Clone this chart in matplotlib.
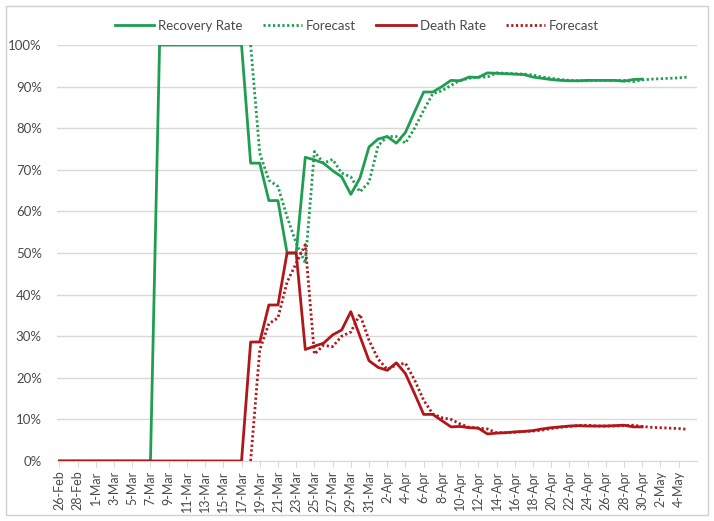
import pandas as pd
import numpy as np
import matplotlib
matplotlib.use("Agg")
import matplotlib.pyplot as plt
from matplotlib.patches import Rectangle

# categories: one per day, 26-Feb-2020 .. 5-May-2020
dates = pd.date_range("2020-02-26", "2020-05-05", freq="D")
date_labels = [f"{d.day}-{d.strftime('%b')}" for d in dates]

# actual rates, 26-Feb .. 30-Apr
recovery_rate = [0.0] * 11 + [1.0] * 10 + [
    0.716, 0.716, 0.626, 0.626, 0.500, 0.500, 0.730, 0.724, 0.716, 0.698,
    0.683, 0.641, 0.680, 0.755, 0.774, 0.780, 0.764, 0.790, 0.839, 0.887,
    0.887, 0.900, 0.915, 0.914, 0.923, 0.922, 0.933, 0.932, 0.931, 0.930,
    0.929, 0.923, 0.920, 0.917, 0.915, 0.914, 0.914, 0.915, 0.915, 0.915,
    0.915, 0.913, 0.917, 0.918]
death_rate = [0.0] * 21 + [
    0.286, 0.286, 0.375, 0.375, 0.500, 0.500, 0.268, 0.276, 0.283, 0.303,
    0.315, 0.359, 0.300, 0.241, 0.225, 0.218, 0.236, 0.210, 0.162, 0.112,
    0.112, 0.097, 0.082, 0.083, 0.080, 0.079, 0.065, 0.067, 0.068, 0.070,
    0.071, 0.073, 0.077, 0.080, 0.082, 0.084, 0.085, 0.084, 0.084, 0.084,
    0.085, 0.086, 0.082, 0.082]

# forecasts, 18-Mar .. 5-May
forecast_start = 21
recovery_forecast = [
    1.000, 0.740, 0.675, 0.660, 0.587, 0.524, 0.476, 0.744, 0.716, 0.725,
    0.692, 0.683, 0.647, 0.670, 0.758, 0.780, 0.780, 0.764, 0.800, 0.843,
    0.883, 0.890, 0.903, 0.915, 0.920, 0.923, 0.923, 0.933, 0.932, 0.931,
    0.930, 0.928, 0.923, 0.920, 0.917, 0.915, 0.914, 0.914, 0.915, 0.915,
    0.915, 0.915, 0.912, 0.916, 0.918, 0.919, 0.920, 0.921, 0.923]
death_forecast = [
    0.000, 0.267, 0.330, 0.344, 0.430, 0.475, 0.520, 0.257, 0.278, 0.275,
    0.300, 0.310, 0.353, 0.290, 0.245, 0.220, 0.231, 0.235, 0.195, 0.146,
    0.113, 0.104, 0.100, 0.089, 0.081, 0.079, 0.077, 0.068, 0.068, 0.069,
    0.071, 0.072, 0.074, 0.078, 0.081, 0.083, 0.085, 0.086, 0.084, 0.084,
    0.084, 0.085, 0.086, 0.083, 0.081, 0.080, 0.079, 0.078, 0.076]

green = '#1F9E52'
red = '#B0161A'
grey_text = '#4A4A4A'

plt.rcParams['font.family'] = ['Lato', 'DejaVu Sans']

fig = plt.figure(figsize=(7.14, 5.21), dpi=100)
ax = fig.add_axes([0.080, 0.1152, 0.896, 0.7984])

x_actual = np.arange(len(recovery_rate))
x_fc = np.arange(forecast_start, forecast_start + len(recovery_forecast))

ax.plot(x_actual, recovery_rate, color=green, lw=2.0, label='Recovery Rate', zorder=3)
ax.plot(x_fc, recovery_forecast, color=green, lw=2.0, ls=(0, (0.8, 0.9)), label='Forecast', zorder=3)
ax.plot(x_actual, death_rate, color=red, lw=2.0, label='Death Rate', zorder=4)
ax.plot(x_fc, death_forecast, color=red, lw=2.0, ls=(0, (0.8, 0.9)), label='Forecast', zorder=4)

ax.set_ylim(0, 1.0)
ax.set_xlim(-0.25, 70.0)
ax.set_yticks(np.arange(0, 1.01, 0.1))
ax.set_yticklabels([f"{int(round(v * 100))}%" for v in np.arange(0, 1.01, 0.1)])
ax.yaxis.grid(True, color='#D9D9D9', lw=1.0)
ax.set_axisbelow(True)

ticks = np.arange(0, len(dates) - 1, 2)
ax.set_xticks(ticks)
ax.set_xticklabels([date_labels[i] for i in ticks], rotation=90)

for side in ['top', 'right', 'left']:
    ax.spines[side].set_visible(False)
ax.spines['bottom'].set_color('#D9D9D9')
ax.tick_params(axis='y', length=0, pad=11, labelsize=9.5, colors=grey_text)
ax.tick_params(axis='x', length=4, color='#D9D9D9', pad=3, labelsize=9, labelcolor=grey_text)

fig.legend(loc='center', bbox_to_anchor=(0.5, 0.951), ncol=4, frameon=False,
           fontsize=9.5, handlelength=3.0, columnspacing=1.5, handletextpad=0.3,
           labelcolor=grey_text)

fig.patches.append(Rectangle((0.008, 0.012), 0.984, 0.976, transform=fig.transFigure,
                             fill=False, edgecolor='#D0D0D0', lw=1.0))

fig.savefig('out.png', dpi=100)
